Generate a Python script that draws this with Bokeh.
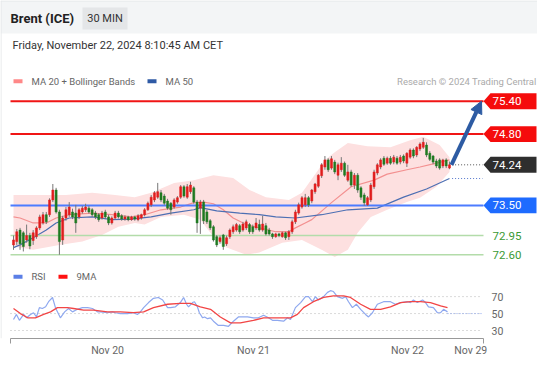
import numpy as np
from bokeh.plotting import figure
from bokeh.models import Range1d, LinearAxis, FixedTicker, Label, Arrow, NormalHead
from bokeh.embed import file_html
from bokeh.resources import INLINE

# ---------------- data ----------------
opens = [72.78,72.84,73.05,73.00,72.87,72.95,72.86,72.93,73.09,73.18,
         73.33,73.33,73.60,73.78,73.38,72.87,73.27,73.33,73.38,73.36,
         73.29,73.38,73.42,73.45,73.42,73.36,73.33,73.27,73.38,73.29,
         73.18,73.27,73.36,73.31,73.25,73.29,73.24,73.29,73.24,73.27,
         73.33,73.42,73.51,73.60,73.65,73.73,73.67,73.58,73.54,73.47,
         73.56,73.65,73.84,73.65,73.75,73.82,73.56,73.45,73.56,73.38,
         73.22,73.11,72.93,72.84,72.96,72.80,72.93,73.02,73.05,73.13,
         73.05,73.09,73.15,73.11,73.09,73.15,73.05,73.13,73.05,72.98,
         72.93,72.98,72.93,73.00,72.93,73.02,73.20,73.36,73.47,73.51,
         73.64,73.58,73.75,73.85,74.04,74.20,74.33,74.18,74.29,74.05,
         74.15,74.27,73.96,74.11,73.87,74.05,73.82,73.69,73.51,73.60,
         73.84,74.09,74.20,74.36,74.27,74.36,74.29,74.36,74.29,74.40,
         74.27,74.38,74.51,74.42,74.53,74.56,74.60,74.45,74.40,74.31,
         74.33,74.22,74.33,74.18]
highs = [72.95,73.07,73.09,73.03,73.15,73.00,73.05,73.12,73.33,73.38,
         73.38,73.63,73.89,73.82,73.42,73.31,73.47,73.56,73.44,73.51,
         73.45,73.49,73.53,73.49,73.45,73.40,73.36,73.40,73.42,73.33,
         73.30,73.40,73.40,73.34,73.32,73.31,73.31,73.31,73.34,73.35,
         73.45,73.57,73.69,73.76,73.91,73.78,73.71,73.62,73.56,73.63,
         73.67,73.87,73.87,73.89,73.93,73.85,73.60,73.60,73.60,73.42,
         73.25,73.14,72.96,72.95,72.98,72.95,73.08,73.15,73.18,73.16,
         73.20,73.24,73.18,73.15,73.27,73.24,73.31,73.18,73.09,73.00,
         73.00,73.00,73.02,73.02,73.05,73.24,73.42,73.55,73.67,73.71,
         73.67,73.80,73.91,74.07,74.27,74.40,74.36,74.40,74.33,74.28,
         74.38,74.30,74.24,74.15,74.09,74.09,73.85,73.73,73.67,73.91,
         74.15,74.27,74.36,74.40,74.39,74.40,74.42,74.40,74.42,74.43,
         74.47,74.54,74.54,74.58,74.65,74.73,74.65,74.49,74.42,74.35,
         74.36,74.35,74.36,74.30]
lows = [72.69,72.78,72.69,72.66,72.82,72.70,72.78,72.89,73.05,73.15,
        73.16,73.29,73.56,73.35,72.60,72.78,73.22,73.29,73.25,73.00,
        73.25,73.35,73.38,73.35,73.29,73.25,73.20,73.24,73.25,73.14,
        73.15,73.24,73.26,73.22,73.22,73.21,73.22,73.22,73.21,73.24,
        73.30,73.40,73.47,73.56,73.62,73.56,73.50,73.42,73.33,73.44,
        73.53,73.62,73.64,73.62,73.71,73.53,73.00,72.98,73.16,73.16,
        73.05,72.84,72.74,72.80,72.69,72.76,72.89,72.98,73.02,72.98,
        73.02,73.05,72.98,72.98,73.05,73.02,73.02,72.95,72.95,72.89,
        72.91,72.92,72.91,72.87,72.87,72.98,73.16,73.33,73.44,73.47,
        73.47,73.54,73.71,73.82,74.00,74.15,74.11,74.15,74.07,73.96,
        74.11,74.02,73.93,73.84,73.80,73.73,73.60,73.49,73.49,73.56,
        73.80,74.05,74.16,74.22,74.24,74.24,74.25,74.24,74.25,74.27,
        74.20,74.35,74.36,74.38,74.49,74.53,74.38,74.31,74.25,74.18,
        74.15,74.18,74.18,74.16]
closes = [72.87,73.02,72.80,72.75,72.95,72.76,73.00,73.09,73.29,73.33,
          73.20,73.60,73.78,73.38,72.84,73.27,73.42,73.47,73.29,73.18,
          73.42,73.45,73.47,73.38,73.33,73.29,73.24,73.36,73.29,73.18,
          73.27,73.36,73.29,73.25,73.29,73.24,73.29,73.25,73.31,73.33,
          73.42,73.54,73.65,73.73,73.75,73.60,73.54,73.45,73.42,73.60,
          73.64,73.84,73.67,73.84,73.87,73.56,73.18,73.56,73.22,73.20,
          73.09,72.87,72.78,72.91,72.75,72.91,73.05,73.11,73.15,73.02,
          73.16,73.20,73.02,73.02,73.18,73.05,73.16,72.98,72.98,72.93,
          72.98,72.95,73.00,72.91,73.02,73.20,73.38,73.51,73.64,73.64,
          73.51,73.78,73.89,74.05,74.24,74.33,74.15,74.35,74.11,74.24,
          74.27,74.05,74.11,73.87,74.05,73.78,73.65,73.55,73.64,73.87,
          74.11,74.24,74.33,74.25,74.36,74.27,74.38,74.27,74.38,74.31,
          74.45,74.51,74.40,74.56,74.62,74.65,74.42,74.34,74.29,74.22,
          74.18,74.33,74.22,74.24]

ma20_idx = [0,2,6,10,13,17,24,30,36,40,45,51,55,58,61,64,67,71,75,80,
            84,86,89,91,97,103,110,114,120,124,129,133]
ma20 = [73.29,73.27,73.18,73.18,73.27,73.33,73.36,73.33,73.29,73.33,
        73.42,73.47,73.55,73.56,73.53,73.42,73.27,73.15,73.09,73.02,
        73.02,73.09,73.18,73.24,73.55,73.84,73.96,74.07,74.15,74.20,
        74.27,74.33]
ma50_idx = [0,2,6,10,13,17,24,30,36,42,48,55,57,62,69,75,80,86,94,102,
            111,119,126,133]
ma50 = [72.73,72.78,72.91,73.05,73.18,73.27,73.29,73.24,73.25,73.29,
        73.36,73.42,73.46,73.40,73.36,73.33,73.29,73.27,73.33,73.42,
        73.45,73.65,73.80,73.99]
bb_up_idx = [0,6,16,24,31,37,42,49,55,61,67,72,77,84,88,93,95,98,102,108,
             115,121,125,130,133]
bb_up = [73.69,73.69,73.69,73.73,73.69,73.65,73.73,73.91,73.96,74.05,
         74.00,73.78,73.65,73.60,73.73,74.15,74.33,74.47,74.64,74.58,
         74.56,74.69,74.75,74.60,74.38]
bb_lo_idx = [0,6,14,21,27,32,37,40,45,52,57,61,65,71,75,82,88,94,98,102,
             105,109,114,120,124,129,133]
bb_lo = [72.75,72.69,72.78,72.84,72.96,73.11,73.18,73.15,73.29,73.33,
         73.24,72.93,72.73,72.60,72.64,72.82,72.87,72.69,72.56,72.69,
         73.00,73.29,73.42,73.56,73.64,73.84,74.11]

rsi_idx = [0,0.9,1.8,3.1,4.0,5.2,6.1,7.0,7.9,8.8,
           9.8,10.7,11.9,12.8,14.3,15.6,16.8,18.0,19.5,21.0,
           22.6,24.1,25.6,26.5,28.7,30.2,31.1,32.6,34.8,36.6,
           37.8,38.7,39.7,41.2,42.7,44.2,45.5,47.0,47.9,49.4,
           50.9,51.9,52.8,53.4,54.6,55.2,56.1,56.7,57.7,58.3,
           59.2,60.1,61.0,62.5,64.1,65.6,67.1,68.6,71.4,73.2,
           74.7,76.3,77.8,79.0,80.5,82.4,83.6,84.5,86.0,87.6,
           89.1,90.0,91.2,92.1,93.0,94.6,95.8,96.7,97.6,98.8,
           100.4,101.3,102.2,103.4,104.6,105.9,107.4,108.3,109.5,111.0,
           112.9,115.0,116.5,118.1,120.2,121.1,122.0,123.2,124.8,125.7,
           126.6,128.1,129.3,130.3,131.2,132.4]
rsi = [43,49,42,49,45,49,51,46,57,56,
       58,64,69,57,45,52,56,52,55,57,
       57,56,52,52,51,52,51,50,50,51,
       49,52,57,63,68,69,66,57,57,58,
       63,69,61,58,63,64,58,51,45,46,
       44,45,41,36,36,35,41,46,46,45,
       45,48,45,42,42,41,45,43,57,63,
       70,70,64,70,66,70,75,77,76,70,
       68,70,64,57,61,55,49,46,51,61,
       64,64,61,63,64,63,66,63,66,63,
       58,57,51,51,55,52]
ma9_idx = [0,2.1,4.3,6.7,9.2,11.3,13.4,16.5,18.3,21.4,
           24.4,28.7,32.6,36.6,39.7,42.7,47.0,50.9,54.0,57.0,
           60.1,63.1,66.2,69.2,73.2,76.3,80.5,84.5,86.6,88.5,
           91.5,94.6,97.6,100.7,102.8,105.9,108.9,112.0,115.0,118.1,
           121.1,124.2,127.2,130.3,132.4]
ma9 = [56,50,45,45,49,52,57,57,56,54,
       54,52,52,51,52,57,61,62,62,58,
       55,46,39,39,42,45,45,45,49,57,
       64,69,71,71,69,61,55,55,58,63,
       64,64,63,59,57]

resistances = [75.40, 74.80]
supports = [73.50]
minor_levels = [72.95, 72.60]
last_price = 74.24
rsi_levels = [70, 50, 30]
tick_pos = [28.7, 73.2, 120.2, 139.5]
tick_labels = ["Nov 20", "Nov 21", "Nov 22", "Nov 29"]

# ---------------- layout (pixel mapping) ----------------
W, H = 537, 359
X0PX, DX = 13.0, 3.278
PY0, P0, PK = 101.0, 75.40, 55.0
RY0, RK = 314.0, 0.85
AXIS_PX = 339
RIGHT = 536
FONT = "Roboto"

def xd(px):
    return (px - X0PX) / DX

def yd(py):
    return P0 - (py - PY0) / PK

def yr(py):
    return 50 + (RY0 - py) / RK

p = figure(width=W, height=H, output_backend="svg", toolbar_location=None,
           x_range=Range1d(xd(0), xd(W)),
           y_range=Range1d(yd(AXIS_PX), yd(0)),
           min_border_left=0, min_border_right=0, min_border_top=0,
           min_border_bottom=H - AXIS_PX,
           x_axis_type=None, y_axis_type=None)
p.extra_y_ranges = {"rsi": Range1d(yr(AXIS_PX), yr(0))}
p.grid.visible = False
p.outline_line_color = None
p.background_fill_color = "white"
p.border_fill_color = "white"

# header
p.quad(left=xd(0), right=xd(W), top=yd(0), bottom=yd(33),
       fill_color="#f3f5f6", line_color=None)
p.quad(left=xd(82), right=xd(127), top=yd(7), bottom=yd(29),
       fill_color="#e4e6e8", line_color=None)
# card border (left / top)
p.segment(x0=xd(0.5), x1=xd(0.5), y0=yd(0), y1=yd(AXIS_PX), line_color="#e3e6e8", line_width=1)
p.segment(x0=xd(0), x1=xd(W), y0=yd(0.5), y1=yd(0.5), line_color="#e3e6e8", line_width=1)

def lab(x, y, text, size, color, align="left", bold=False, yname="default"):
    p.add_layout(Label(x=x, y=y, text=text, text_font=FONT, text_font_size=size,
                       text_color=color, text_align=align, text_baseline="middle",
                       text_font_style="bold" if bold else "normal",
                       y_range_name=yname))

lab(xd(10), yd(18), "Brent (ICE)", "13px", "#222222", bold=True)
lab(xd(104.5), yd(18), "30 MIN", "11px", "#333333", align="center")
lab(xd(12), yd(45), "Friday, November 22, 2024 8:10:45 AM CET", "11px", "#333333")

# legends
p.quad(left=xd(13), right=xd(22), top=yd(79), bottom=yd(83), fill_color="#ff8888", line_color=None)
lab(xd(31), yd(81), "MA 20 + Bollinger Bands", "9.5px", "#666666")
p.quad(left=xd(147), right=xd(156), top=yd(79), bottom=yd(83), fill_color="#2f5aa5", line_color=None)
lab(xd(165), yd(81), "MA 50", "9.5px", "#666666")
lab(xd(RIGHT), yd(81), "Research \u00a9 2024 Trading Central", "9.5px", "#aaaaaa", align="right")

LEG2 = 277
p.quad(left=xd(13), right=xd(22), top=yd(LEG2 - 2), bottom=yd(LEG2 + 2), fill_color="#5b7fe6", line_color=None)
lab(xd(31), yd(LEG2), "RSI", "9.5px", "#666666")
p.quad(left=xd(58), right=xd(67), top=yd(LEG2 - 2), bottom=yd(LEG2 + 2), fill_color="#ff1111", line_color=None)
lab(xd(76), yd(LEG2), "9MA", "9.5px", "#666666")

# bollinger band + MAs
p.patch(x=bb_up_idx + bb_lo_idx[::-1], y=bb_up + bb_lo[::-1],
        fill_color="#fde0e0", line_color=None)
p.line(ma20_idx, ma20, line_color="#f39090", line_width=1.2)
p.line(ma50_idx, ma50, line_color="#4d6fb3", line_width=1.2)

# level lines
L0, L1 = xd(10), xd(483)
for lv in resistances:
    p.segment(x0=L0, x1=L1, y0=lv, y1=lv, line_color="#f01515", line_width=2)
for lv in supports:
    p.segment(x0=L0, x1=L1, y0=lv, y1=lv, line_color="#4d7cff", line_width=2)
for lv in minor_levels:
    p.segment(x0=L0, x1=L1, y0=lv, y1=lv, line_color="#b3dcaa", line_width=1.5)

# candles
idx = np.arange(len(closes))
o = np.array(opens); c = np.array(closes)
cols = ["#e11d1d" if cc >= oo else "#1f7a21" for oo, cc in zip(opens, closes)]
p.segment(x0=idx, x1=idx, y0=lows, y1=highs, line_color="#777777", line_width=1)
p.vbar(x=idx, width=0.62, top=np.maximum(o, c), bottom=np.minimum(o, c),
       fill_color=cols, line_color=cols, line_width=0.5)

# dotted projections
last_i = idx[-1]
p.segment(x0=last_i + 0.8, x1=xd(482), y0=last_price, y1=last_price,
          line_color="#555555", line_dash="1 2", line_width=1)
p.segment(x0=last_i + 0.8, x1=xd(482), y0=ma50[-1], y1=ma50[-1],
          line_color="#5577cc", line_dash="1 2", line_width=1)

# arrow
p.add_layout(Arrow(end=NormalHead(size=12, fill_color="#2d5ba3", line_color="#2d5ba3"),
                   x_start=last_i + 0.6, y_start=closes[-1], x_end=xd(481), y_end=yd(101),
                   line_color="#2d5ba3", line_width=4))

# tags
def tag(level, color, text):
    hh = 8 / PK
    xs = [xd(483), xd(490), xd(RIGHT), xd(RIGHT), xd(490)]
    ys = [level, level + hh, level + hh, level - hh, level - hh]
    p.patch(x=xs, y=ys, fill_color=color, line_color=None)
    lab(xd(492), level, text, "11.5px", "white")

for lv in resistances:
    tag(lv, "#f50c0c", f"{lv:.2f}")
tag(last_price, "#2e2e2e", f"{last_price:.2f}")
for lv in supports:
    tag(lv, "#1e6bff", f"{lv:.2f}")
for lv in minor_levels:
    lab(xd(492), lv, f"{lv:.2f}", "11.5px", "#3a9a36")

# RSI panel
for lv in rsi_levels:
    p.segment(x0=L0, x1=xd(482), y0=lv, y1=lv, line_color="#b5b5b5",
              line_dash="1 3", line_width=1, y_range_name="rsi")
    lab(xd(491), lv, str(lv), "10.5px", "#666666", yname="rsi")
p.line(rsi_idx, rsi, line_color="#8ea8ef", line_width=1.2, y_range_name="rsi")
p.line(ma9_idx, ma9, line_color="#f24545", line_width=1.3, y_range_name="rsi")
p.segment(x0=rsi_idx[-1], x1=xd(482), y0=50, y1=50, line_color="#8ea8ef",
          line_dash="1 2", line_width=1, y_range_name="rsi")

# bottom axis
ax = LinearAxis(ticker=FixedTicker(ticks=tick_pos, minor_ticks=[xd(10), xd(483)]),
                major_label_overrides={t: s for t, s in zip(tick_pos, tick_labels)},
                bounds=(xd(10) - 0.01, xd(483) + 0.01),
                axis_line_color="#999999", axis_line_width=1,
                major_tick_line_color=None, major_tick_out=0, major_tick_in=0,
                minor_tick_line_color="#999999", minor_tick_out=5, minor_tick_in=0,
                major_label_text_font=FONT, major_label_text_font_size="10.5px",
                major_label_text_color="#666666", major_label_standoff=0)
p.add_layout(ax, "below")

open("out.html", "w").write(file_html(p, INLINE))
